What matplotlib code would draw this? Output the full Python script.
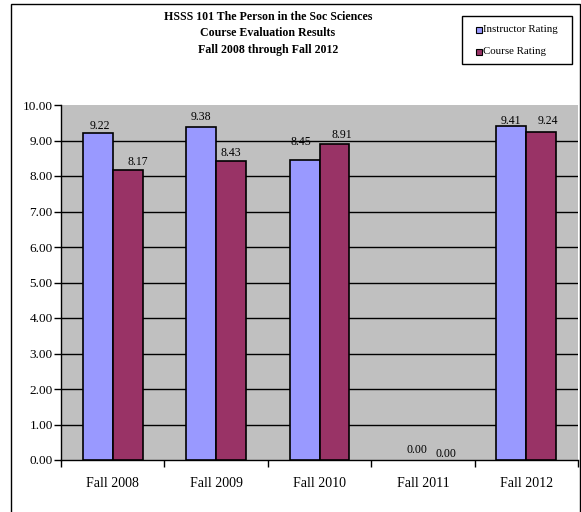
import matplotlib
matplotlib.use("Agg")
import matplotlib.pyplot as plt
from matplotlib.patches import Rectangle

# Course evaluation data
terms = ["Fall 2008", "Fall 2009", "Fall 2010", "Fall 2011", "Fall 2012"]
instructor = [9.22, 9.38, 8.45, 0.00, 9.41]
course = [8.17, 8.43, 8.91, 0.00, 9.24]
y_ticks = [0, 1, 2, 3, 4, 5, 6, 7, 8, 9, 10]

title_lines = ["HSSS 101 The Person in the Soc Sciences",
               "Course Evaluation Results",
               "Fall 2008 through Fall 2012"]

# small nudges (in pixels) for the value labels: (dx, dy above bar top)
inst_nudge = [(2, 7), (0, 10), (-4, 18), (9, 10), (0, 5)]
course_nudge = [(10, 8), (0, 8), (7, 9), (8, 6), (7, 11)]

W, H = 581, 512
plt.rcParams["font.family"] = ["Liberation Serif", "DejaVu Serif"]
fig = plt.figure(figsize=(W / 100, H / 100), dpi=100)

def fx(px):
    return px / W

def fy(py):
    return 1 - py / H

# outer chart frame
fig.patches.append(Rectangle((fx(10.5), fy(530)), fx(569.5), 530 / H - 3.5 / H,
                             transform=fig.transFigure, fill=False,
                             edgecolor="black", linewidth=1.0))

ax = fig.add_axes([fx(61), fy(460), fx(517), 355 / H])
ax.set_facecolor("#C0C0C0")

bw = 0.29
xs = list(range(len(terms)))
ax.bar([x - bw / 2 for x in xs], instructor, width=bw, color="#9999FF",
       edgecolor=["black" if v > 0 else "none" for v in instructor],
       linewidth=1.2, zorder=3, label="Instructor Rating")
ax.bar([x + bw / 2 for x in xs], course, width=bw, color="#993366",
       edgecolor=["black" if v > 0 else "none" for v in course],
       linewidth=1.2, zorder=3, label="Course Rating")

ax.set_xlim(-0.5, len(terms) - 0.5)
ax.set_ylim(0, 10)

for v in y_ticks[1:-1]:
    ax.axhline(v, color="black", linewidth=1.0, zorder=1)

ax.set_yticks(y_ticks)
ax.set_yticklabels([f"{v:.2f}" for v in y_ticks], fontsize=9.5)
ax.tick_params(axis="y", direction="out", length=5, width=1.0, pad=1)

ax.set_xticks([x - 0.5 for x in range(len(terms) + 1)])
ax.set_xticklabels([])
ax.tick_params(axis="x", which="major", direction="out", length=5, width=1.0)
ax.set_xticks(xs, minor=True)
ax.set_xticklabels(terms, minor=True, fontsize=10)
ax.tick_params(axis="x", which="minor", length=0, pad=12)

for s in ["top", "right"]:
    ax.spines[s].set_visible(False)
for s in ["left", "bottom"]:
    ax.spines[s].set_linewidth(1.0)

def label(xc, val, nudge, z):
    dx, dy = nudge
    ax.annotate(f"{val:.2f}", (xc, val), xytext=(dx * 0.72, dy * 0.72),
                textcoords="offset points", ha="center", va="center",
                fontsize=8.5, zorder=z)

for x, v, n in zip(xs, instructor, inst_nudge):
    label(x - bw / 2, v, n, 2.5)
for x, v, n in zip(xs, course, course_nudge):
    label(x + bw / 2, v, n, 4)

# title
for i, t in enumerate(title_lines):
    fig.text(fx(268), fy(17.5 + 16 * i), t, ha="center", va="center",
             fontsize=8.6, fontweight="bold")

# legend box
fig.patches.append(Rectangle((fx(462), fy(64)), fx(110), 48 / H,
                             transform=fig.transFigure, fill=False,
                             edgecolor="black", linewidth=1.0))
for i, (name, col) in enumerate([("Instructor Rating", "#9999FF"),
                                 ("Course Rating", "#993366")]):
    yc = 30 + 22 * i
    fig.patches.append(Rectangle((fx(476), fy(yc + 3)), fx(6), 6 / H,
                                 transform=fig.transFigure, facecolor=col,
                                 edgecolor="black", linewidth=0.8))
    fig.text(fx(483), fy(yc), name, ha="left", va="center", fontsize=7.8)

fig.savefig("out.png", dpi=100)
